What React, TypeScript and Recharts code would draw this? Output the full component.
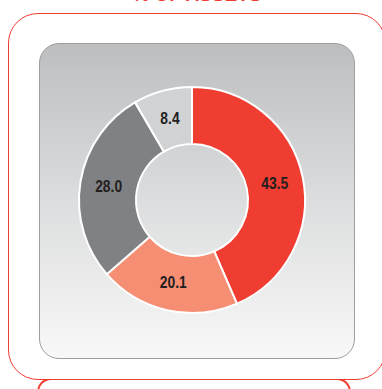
import { PieChart, Pie, Cell } from "recharts";

const categories = ["A", "B", "C", "D"];
const values = [43.5, 20.1, 28.0, 8.4];
const colors = ["#EF3D32", "#F68E74", "#808184", "#D1D2D4"];
const title = "% OF ASSETS";

const RADIAN = Math.PI / 180;

// narrow bold look: Liberation Sans squeezed horizontally
const renderLabel = (props: any) => {
    const { cx, cy, midAngle, innerRadius, outerRadius, value } = props;
    const r = (innerRadius + outerRadius) / 2;
    const x = cx + r * Math.cos(-midAngle * RADIAN);
    const y = cy + r * Math.sin(-midAngle * RADIAN);
    return (
        <text
            x={0}
            y={0}
            transform={`translate(${x},${y}) scale(0.84,1)`}
            fill="#231F20"
            textAnchor="middle"
            dominantBaseline="central"
            fontSize={16.5}
            fontWeight="bold"
            fontFamily='"Liberation Sans", Arial, sans-serif'
        >
            {value.toFixed(1)}
        </text>
    );
};

const App = () => {
    const data = categories.map((name, i) => ({ name, value: values[i] }));

    return (
        <div style={{ position: "absolute", left: 0, top: 0, width: 382, height: 389, overflow: "hidden", background: "#fff" }}>
            <div
                style={{
                    position: "absolute",
                    left: 0,
                    width: 394,
                    top: -15,
                    textAlign: "center",
                    color: "#EF3D32",
                    fontFamily: '"Liberation Sans", Arial, sans-serif',
                    fontWeight: "bold",
                    fontSize: 19,
                    lineHeight: "20px",
                }}
            >
                {title}
            </div>
            {/* bottom tab of next panel */}
            <div
                style={{
                    position: "absolute",
                    left: 37,
                    top: 378,
                    width: 314,
                    height: 40,
                    border: "2px solid #EF3D32",
                    borderRadius: 14,
                    boxSizing: "border-box",
                }}
            />
            <div
                style={{
                    position: "absolute",
                    left: 8,
                    top: 13,
                    width: 378,
                    height: 367,
                    border: "1.5px solid #EF3D32",
                    borderRadius: 30,
                    background: "#fff",
                    boxSizing: "border-box",
                }}
            />
            <div
                style={{
                    position: "absolute",
                    left: 39,
                    top: 43,
                    width: 316,
                    height: 316,
                    border: "1.5px solid #9D9EA0",
                    borderRadius: 20,
                    background: "linear-gradient(to bottom, #BDBEC0 0%, #DCDDDE 50%, #F8F8F8 100%)",
                    boxSizing: "border-box",
                }}
            />
            <div style={{ position: "absolute", left: 0, top: 0 }}>
                <PieChart width={382} height={389}>
                    <Pie
                        data={data}
                        dataKey="value"
                        nameKey="name"
                        cx={187}
                        cy={195}
                        innerRadius={56}
                        outerRadius={113}
                        startAngle={90}
                        endAngle={-270}
                        stroke="#fff"
                        strokeWidth={2}
                        label={renderLabel}
                        labelLine={false}
                        isAnimationActive={false}
                    >
                        {data.map((_, index) => (
                            <Cell key={`cell-${index}`} fill={colors[index]} />
                        ))}
                    </Pie>
                </PieChart>
            </div>
        </div>
    );
};

export default App;
